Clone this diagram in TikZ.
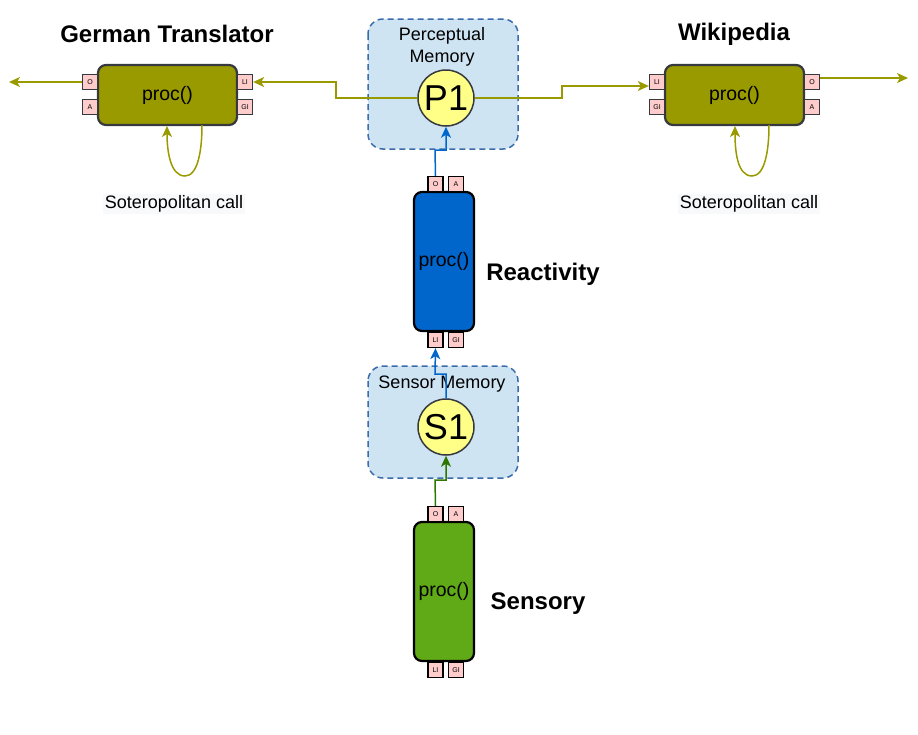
\documentclass[tikz,border=0pt]{standalone}
\usepackage{fontspec}
\setmainfont{Liberation Sans}
\usetikzlibrary{arrows.meta}
\definecolor{olivebox}{HTML}{999900}
\definecolor{edgegray}{HTML}{36393D}
\definecolor{portfill}{HTML}{FFCCCC}
\definecolor{contfill}{HTML}{CFE4F3}
\definecolor{contdraw}{HTML}{3A6BAA}
\definecolor{reactblue}{HTML}{0066CC}
\definecolor{sensgreen}{HTML}{60A917}
\definecolor{arrgreen}{HTML}{2D7600}
\definecolor{circfill}{HTML}{FFFF88}
\definecolor{labelbg}{HTML}{F8F9FA}
\tikzset{
  procbox/.style={draw=edgegray, line width=2.2pt, rounded corners=8pt, fill=olivebox, minimum width=139pt, minimum height=60pt, inner sep=0pt, font=\fontsize{19.5}{22}\selectfont},
  vproc/.style={draw=black, line width=2.2pt, rounded corners=8pt, minimum width=60pt, minimum height=139pt, inner sep=0pt, font=\fontsize{19.5}{22}\selectfont},
  port/.style={draw=edgegray, line width=1.3pt, fill=portfill, minimum width=15pt, minimum height=15pt, inner sep=0pt, font=\fontsize{7}{8}\selectfont},
  vport/.style={draw=black, line width=1.3pt, fill=portfill, minimum width=15pt, minimum height=15pt, inner sep=0pt, font=\fontsize{7}{8}\selectfont},
  container/.style={draw=contdraw, dashed, dash pattern=on 6pt off 4pt, line width=1.5pt, fill=contfill, rounded corners=15pt, inner sep=0pt},
  memcirc/.style={circle, draw=edgegray, line width=1.5pt, fill=circfill, minimum size=56pt, inner sep=0pt, font=\fontsize{36}{40}\selectfont},
  title/.style={font=\bfseries\fontsize{24}{28}\selectfont},
  lbl/.style={font=\fontsize{18}{22}\selectfont},
  callbl/.style={fill=labelbg, inner sep=1.5pt, font=\fontsize{18}{21}\selectfont},
  arr/.style={line width=1.5pt, -{Stealth[length=11pt,width=10pt,inset=3pt]}},
}
\begin{document}
\begin{tikzpicture}[x=1pt,y=-1pt]
\useasboundingbox (0,0) rectangle (918,734);
% containers
\draw[container] (368,19) rectangle (518,149);
\node[lbl, align=center] (pmlabel) at (442,47) {Perceptual\\Memory};
\draw[container] (368,366) rectangle (518,478);
\node[lbl] (smlabel) at (442,384) {Sensor Memory};
\node[memcirc] (p1) at (446,98) {P1};
\node[memcirc] (s1) at (446,427) {S1};

% German translator
\node[title] (gtt) at (167,34) {German Translator};
\node[procbox] (gt) at (167.5,95) {proc()};
\node[port] (gto) at (90,82) {O};
\node[port] (gta) at (90,107) {A};
\node[port] (gtli) at (245,82) {LI};
\node[port] (gtgi) at (245,107) {GI};
\node[callbl] (gtcall) at (174,204) {Soteropolitan call};

% Wikipedia
\node[title] (wkt) at (734,34) {Wikipedia};
\node[procbox] (wk) at (734.5,95) {proc()};
\node[port] (wkli) at (657,82) {LI};
\node[port] (wkgi) at (657,107) {GI};
\node[port] (wko) at (812,82) {O};
\node[port] (wka) at (812,107) {A};
\node[callbl] (wkcall) at (749,204) {Soteropolitan call};

% Reactivity
\node[vproc, fill=reactblue] (re) at (444,261.5) {proc()};
\node[vport] (reo) at (435.5,184) {O};
\node[vport] (rea) at (456,184) {A};
\node[vport] (reli) at (435.5,340) {LI};
\node[vport] (regi) at (456,340) {GI};
\node[title] (ret) at (543,274) {Reactivity};

% Sensory
\node[vproc, fill=sensgreen] (se) at (444,591.5) {proc()};
\node[vport] (seo) at (435.5,514) {O};
\node[vport] (sea) at (456,514) {A};
\node[vport] (seli) at (435.5,670) {LI};
\node[vport] (segi) at (456,670) {GI};
\node[title] (set) at (538,604) {Sensory};

% coordinates for free ends
\coordinate (leftend) at (9,82);
\coordinate (rightend) at (908,78);

% connectors
\draw[arr, olivebox] (p1.west) -- (336,98) -- (336,82) -- (gtli.east);
\draw[arr, olivebox] (gto.west) -- (leftend);
\draw[arr, olivebox] (p1.east) -- (562,98) -- (562,86) -- ([yshift=-4pt]wkli.west);
\draw[arr, olivebox] ([yshift=4pt]wko.east) -- (rightend);
\draw[arr, olivebox] (202,125) .. controls (202,150) and (198,176) .. (185,176) .. controls (170,176) and (167,150) .. (167,126);
\draw[arr, olivebox] (769,125) .. controls (769,150) and (765,176) .. (752,176) .. controls (737,176) and (735,150) .. (735,126);
\draw[arr, reactblue] (reo.north) -- (435,150) -- (446,150) -- (p1.south);
\draw[arr, reactblue] (s1.north) -- (446,374) -- (435,374) -- (reli.south);
\draw[arr, arrgreen] (seo.north) -- (435,480) -- (446,480) -- (s1.south);
\end{tikzpicture}
\end{document}
